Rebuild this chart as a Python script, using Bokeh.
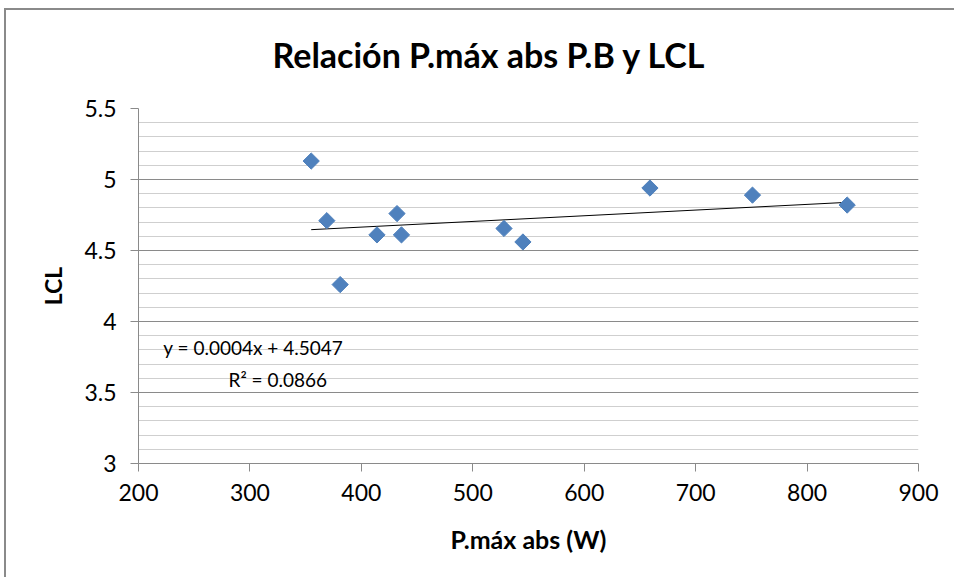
from bokeh.plotting import figure
from bokeh.models import FixedTicker, Range1d, Label, Title
from bokeh.embed import file_html
from bokeh.resources import INLINE

# data
p_max = [355, 369, 381, 414, 432, 436, 528, 545, 659, 751, 836]
lcl = [5.13, 4.71, 4.26, 4.61, 4.76, 4.61, 4.655, 4.56, 4.94, 4.89, 4.82]

x_ticks = [200, 300, 400, 500, 600, 700, 800, 900]
y_ticks = [3, 3.5, 4, 4.5, 5, 5.5]
y_tick_labels = ["3", "3.5", "4", "4.5", "5", "5.5"]
y_minor = [3 + 0.1 * i for i in range(26)]

slope = 0.0004
intercept = 4.5047
eq_text = "y = 0.0004x + 4.5047"
r2_text = "R² = 0.0866"
title_text = "Relación P.máx abs P.B y LCL"

FONT = "Lato"
GRID = "#8a8a8a"

p = figure(width=950, height=569, output_backend="svg", toolbar_location=None,
           x_range=Range1d(200, 900), y_range=Range1d(3, 5.5),
           min_border_left=132, min_border_right=38, min_border_top=98, min_border_bottom=116)
p.margin = (8, 0, 0, 4)
p.styles = {"border-top": "2px solid #8a8a8a", "border-left": "2px solid #8a8a8a"}

p.title = None
spacer = Title(text=" ", text_font_size="1px", standoff=10)
main_title = Title(text=title_text, align="left", offset=134, standoff=42,
                   text_font=FONT, text_font_size="34px", text_font_style="bold",
                   text_color="#000000")
p.add_layout(spacer, "above")
p.add_layout(main_title, "above")

p.outline_line_color = None
p.background_fill_color = "white"
p.border_fill_color = "white"

p.xgrid.visible = False
p.ygrid.ticker = FixedTicker(ticks=y_ticks, minor_ticks=y_minor)
p.ygrid.grid_line_color = GRID
p.ygrid.grid_line_width = 1
p.ygrid.minor_grid_line_color = "#cfcfcf"
p.ygrid.minor_grid_line_width = 1

p.xaxis.ticker = FixedTicker(ticks=x_ticks)
p.yaxis.ticker = FixedTicker(ticks=y_ticks)
p.yaxis.major_label_overrides = {t_: l for t_, l in zip(y_ticks, y_tick_labels)}

for ax in (p.xaxis[0], p.yaxis[0]):
    ax.axis_line_color = GRID
    ax.major_tick_line_color = GRID
    ax.major_tick_out = 8
    ax.major_tick_in = 0
    ax.minor_tick_line_color = None
    ax.major_label_text_font = FONT
    ax.major_label_text_font_size = "23px"
    ax.major_label_text_color = "#000000"
    ax.axis_label_text_font = FONT
    ax.axis_label_text_font_style = "bold"
    ax.axis_label_text_color = "#000000"

p.xaxis.axis_label = "P.máx abs (W)"
p.yaxis.axis_label = "LCL"
p.xaxis.axis_label_text_font_size = "25px"
p.yaxis.axis_label_text_font_size = "23px"
p.xaxis.major_label_standoff = 12
p.yaxis.major_label_standoff = 14
p.xaxis.axis_label_standoff = 20
p.yaxis.axis_label_standoff = 14

# trendline over the data span
x0, x1 = min(p_max), max(p_max)
p.line([x0, x1], [slope * x0 + intercept, slope * x1 + intercept], line_color="#000000", line_width=1)

p.scatter(p_max, lcl, marker="square", angle=0.785398, size=11.5,
          fill_color="#4f81bd", line_color="#4f81bd")

p.add_layout(Label(x=303, y=3.815, text=eq_text, text_font=FONT, text_font_size="19px",
                   text_align="center", text_baseline="middle", text_color="#000000"))
p.add_layout(Label(x=325, y=3.595, text=r2_text, text_font=FONT, text_font_size="19px",
                   text_align="center", text_baseline="middle", text_color="#000000"))

open("out.html", "w").write(file_html(p, INLINE))
